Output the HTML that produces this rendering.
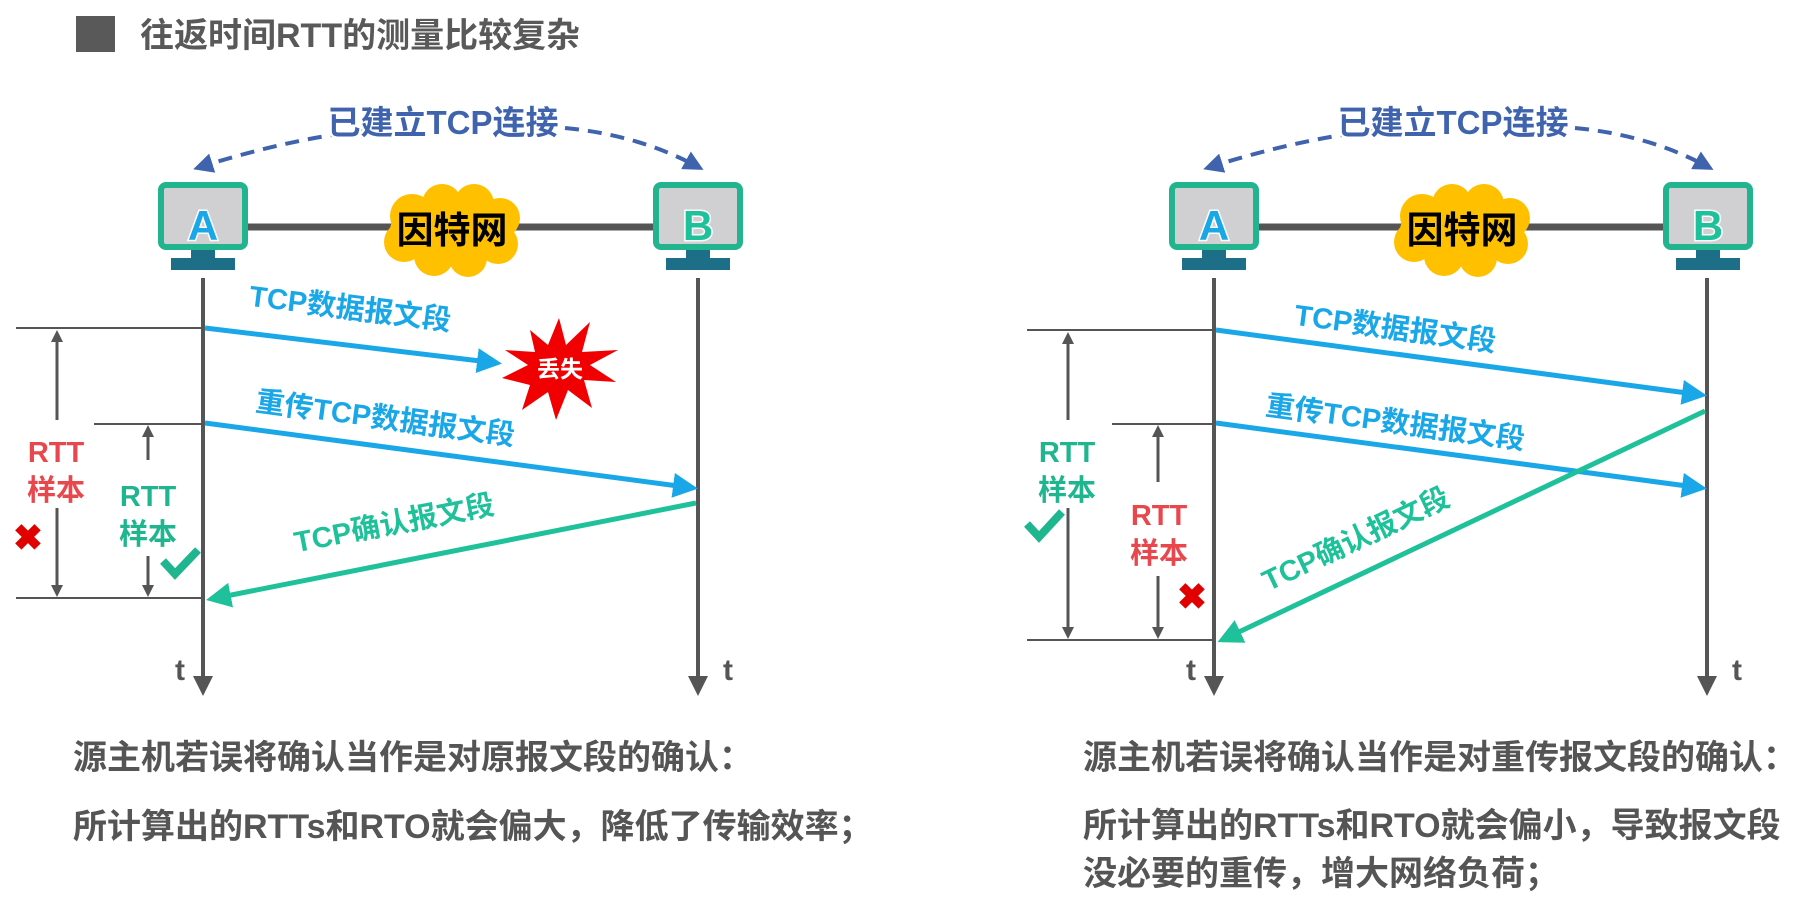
<!DOCTYPE html>
<html><head><meta charset="utf-8"><style>
html,body{margin:0;padding:0;background:#fff;}
svg{display:block;}
text{font-family:"Liberation Sans","Noto Sans CJK SC",sans-serif;font-weight:bold;}
</style></head><body>
<svg width="1817" height="900" viewBox="0 0 1817 900" xmlns="http://www.w3.org/2000/svg">
<defs>
<marker id="mb" markerWidth="5" markerHeight="5" refX="4" refY="2.5" orient="auto" markerUnits="strokeWidth"><path d="M0,0 L5,2.5 L0,5 Z" fill="#1aa7e8"/></marker>
<marker id="mg" markerWidth="5" markerHeight="5" refX="4" refY="2.5" orient="auto" markerUnits="strokeWidth"><path d="M0,0 L5,2.5 L0,5 Z" fill="#1fc19a"/></marker>
<marker id="md" markerWidth="5" markerHeight="5" refX="4" refY="2.5" orient="auto" markerUnits="strokeWidth"><path d="M0,0 L5,2.5 L0,5 Z" fill="#3f63ad"/></marker>
<marker id="mk" markerWidth="4" markerHeight="4" refX="3" refY="2" orient="auto" markerUnits="strokeWidth"><path d="M0,0 L4,2 L0,4 Z" fill="#555"/></marker>
<marker id="mk2" markerWidth="5" markerHeight="5" refX="4" refY="2.5" orient="auto" markerUnits="strokeWidth"><path d="M0,0 L5,2.5 L0,5 Z" fill="#555"/></marker>
<g id="cloud">
<ellipse cx="0" cy="0" rx="62" ry="30" fill="#ffc000"/>
<circle cx="-40" cy="-14" r="22" fill="#ffc000"/><circle cx="-10" cy="-26" r="20" fill="#ffc000"/><circle cx="22" cy="-26" r="20" fill="#ffc000"/><circle cx="48" cy="-12" r="20" fill="#ffc000"/>
<circle cx="-48" cy="12" r="20" fill="#ffc000"/><circle cx="-18" cy="26" r="20" fill="#ffc000"/><circle cx="16" cy="28" r="19" fill="#ffc000"/><circle cx="46" cy="14" r="20" fill="#ffc000"/>
</g>
<g id="pc">
<rect x="-42" y="-42" width="84" height="62" rx="5" fill="#d0d0d2" stroke="#22b38f" stroke-width="6"/>
<rect x="-12" y="23" width="24" height="10" fill="#1d6f88"/>
<rect x="-32" y="31" width="64" height="12" fill="#1d6f88"/>
</g>
</defs>

<rect x="76" y="16" width="39" height="36" fill="#595959"/>
<text x="140" y="47" font-size="34" fill="#595959">往返时间RTT的测量比较复杂</text>

<g>
<path d="M390,128 Q300,135 197,168" fill="none" stroke="#3f63ad" stroke-width="4" stroke-dasharray="14,9" marker-end="url(#md)"/>
<path d="M565,128 Q640,135 700,168" fill="none" stroke="#3f63ad" stroke-width="4" stroke-dasharray="14,9" marker-end="url(#md)"/>
<text x="443" y="134" font-size="33" fill="#3f63ad" text-anchor="middle" stroke="#fff" stroke-width="5" paint-order="stroke">已建立TCP连接</text>
<line x1="247" y1="227" x2="655" y2="227" stroke="#555" stroke-width="7"/>
<use href="#cloud" x="452" y="230"/>
<text x="452" y="243" font-size="37" fill="#000" text-anchor="middle">因特网</text>
<use href="#pc" x="203" y="227"/>
<text x="203" y="240" font-size="42" fill="#1aa7e8" text-anchor="middle" stroke="#fff" stroke-width="3" paint-order="stroke">A</text>
<use href="#pc" x="698" y="227"/>
<text x="698" y="240" font-size="42" fill="#1fc19a" text-anchor="middle" stroke="#fff" stroke-width="3" paint-order="stroke">B</text>
<line x1="203" y1="278" x2="203" y2="692" stroke="#555" stroke-width="4" marker-end="url(#mk2)"/>
<line x1="698" y1="278" x2="698" y2="692" stroke="#555" stroke-width="4" marker-end="url(#mk2)"/>
<text x="180" y="680" font-size="30" fill="#555" text-anchor="middle">t</text>
<text x="728" y="680" font-size="30" fill="#555" text-anchor="middle">t</text>
<line x1="16" y1="328" x2="203" y2="328" stroke="#555" stroke-width="2"/>
<line x1="94" y1="424" x2="203" y2="424" stroke="#555" stroke-width="2"/>
<line x1="16" y1="598" x2="203" y2="598" stroke="#555" stroke-width="2"/>
<line x1="57" y1="420" x2="57" y2="333" stroke="#555" stroke-width="3" marker-end="url(#mk)"/>
<line x1="57" y1="508" x2="57" y2="594" stroke="#555" stroke-width="3" marker-end="url(#mk)"/>
<line x1="148" y1="460" x2="148" y2="428" stroke="#555" stroke-width="3" marker-end="url(#mk)"/>
<line x1="148" y1="556" x2="148" y2="594" stroke="#555" stroke-width="3" marker-end="url(#mk)"/>
<text x="56" y="462" font-size="29" fill="#e8484d" text-anchor="middle">RTT</text>
<text x="56" y="500" font-size="29" fill="#e8484d" text-anchor="middle">样本</text>
<text x="28" y="550" font-size="36" fill="#e00000" text-anchor="middle">✖</text>
<text x="148" y="506" font-size="29" fill="#1fb58f" text-anchor="middle">RTT</text>
<text x="148" y="544" font-size="29" fill="#1fb58f" text-anchor="middle">样本</text>
<path d="M163,561 L175,574 L198,550" fill="none" stroke="#1fb58f" stroke-width="8"/>
<line x1="205" y1="328" x2="497" y2="363" stroke="#1aa7e8" stroke-width="5" marker-end="url(#mb)"/>
<text transform="translate(349,318) rotate(7)" font-size="29" fill="#1aa7e8" text-anchor="middle">TCP数据报文段</text>
<polygon fill="#f00000" points="559,318 566,345 590,322 582,352 618,350 590,365 616,382 584,380 592,408 568,390 556,420 548,392 522,410 530,385 502,378 528,365 505,350 535,352 530,330 548,345" />
<text x="560" y="377" font-size="23" fill="#fff" text-anchor="middle">丢失</text>
<line x1="205" y1="423" x2="693" y2="488" stroke="#1aa7e8" stroke-width="5" marker-end="url(#mb)"/>
<text transform="translate(384,428) rotate(7.6)" font-size="29" fill="#1aa7e8" text-anchor="middle">重传TCP数据报文段</text>
<line x1="696" y1="503" x2="211" y2="599" stroke="#1fc19a" stroke-width="5" marker-end="url(#mg)"/>
<text transform="translate(396,533) rotate(-11)" font-size="29" fill="#1fc19a" text-anchor="middle">TCP确认报文段</text>
<text x="73" y="769" font-size="34" fill="#555">源主机若误将确认当作是对原报文段的确认：</text>
<text x="73" y="838" font-size="34" fill="#555">所计算出的RTTs和RTO就会偏大，降低了传输效率；</text>
</g>

<g>
<path d="M1400,128 Q1310,135 1207,168" fill="none" stroke="#3f63ad" stroke-width="4" stroke-dasharray="14,9" marker-end="url(#md)"/>
<path d="M1575,128 Q1650,135 1710,168" fill="none" stroke="#3f63ad" stroke-width="4" stroke-dasharray="14,9" marker-end="url(#md)"/>
<text x="1453" y="134" font-size="33" fill="#3f63ad" text-anchor="middle" stroke="#fff" stroke-width="5" paint-order="stroke">已建立TCP连接</text>
<line x1="1257" y1="227" x2="1665" y2="227" stroke="#555" stroke-width="7"/>
<use href="#cloud" x="1462" y="230"/>
<text x="1462" y="243" font-size="37" fill="#000" text-anchor="middle">因特网</text>
<use href="#pc" x="1214" y="227"/>
<text x="1214" y="240" font-size="42" fill="#1aa7e8" text-anchor="middle" stroke="#fff" stroke-width="3" paint-order="stroke">A</text>
<use href="#pc" x="1708" y="227"/>
<text x="1708" y="240" font-size="42" fill="#1fc19a" text-anchor="middle" stroke="#fff" stroke-width="3" paint-order="stroke">B</text>
<line x1="1214" y1="278" x2="1214" y2="692" stroke="#555" stroke-width="4" marker-end="url(#mk2)"/>
<line x1="1707" y1="278" x2="1707" y2="692" stroke="#555" stroke-width="4" marker-end="url(#mk2)"/>
<text x="1191" y="680" font-size="30" fill="#555" text-anchor="middle">t</text>
<text x="1737" y="680" font-size="30" fill="#555" text-anchor="middle">t</text>
<line x1="1027" y1="330" x2="1214" y2="330" stroke="#555" stroke-width="2"/>
<line x1="1112" y1="424" x2="1214" y2="424" stroke="#555" stroke-width="2"/>
<line x1="1027" y1="640" x2="1214" y2="640" stroke="#555" stroke-width="2"/>
<line x1="1068" y1="420" x2="1068" y2="335" stroke="#555" stroke-width="3" marker-end="url(#mk)"/>
<line x1="1068" y1="508" x2="1068" y2="636" stroke="#555" stroke-width="3" marker-end="url(#mk)"/>
<line x1="1158" y1="482" x2="1158" y2="428" stroke="#555" stroke-width="3" marker-end="url(#mk)"/>
<line x1="1158" y1="576" x2="1158" y2="636" stroke="#555" stroke-width="3" marker-end="url(#mk)"/>
<text x="1067" y="462" font-size="29" fill="#1fb58f" text-anchor="middle">RTT</text>
<text x="1067" y="500" font-size="29" fill="#1fb58f" text-anchor="middle">样本</text>
<path d="M1027,524 L1039,537 L1062,512" fill="none" stroke="#1fb58f" stroke-width="8"/>
<text x="1159" y="525" font-size="29" fill="#e8484d" text-anchor="middle">RTT</text>
<text x="1159" y="563" font-size="29" fill="#e8484d" text-anchor="middle">样本</text>
<text x="1192" y="609" font-size="36" fill="#e00000" text-anchor="middle">✖</text>
<line x1="1216" y1="330" x2="1702" y2="395" stroke="#1aa7e8" stroke-width="5" marker-end="url(#mb)"/>
<text transform="translate(1394,338) rotate(7.6)" font-size="29" fill="#1aa7e8" text-anchor="middle">TCP数据报文段</text>
<line x1="1216" y1="423" x2="1702" y2="488" stroke="#1aa7e8" stroke-width="5" marker-end="url(#mb)"/>
<text transform="translate(1394,432) rotate(7.6)" font-size="29" fill="#1aa7e8" text-anchor="middle">重传TCP数据报文段</text>
<line x1="1705" y1="411" x2="1222" y2="640" stroke="#1fc19a" stroke-width="5" marker-end="url(#mg)"/>
<text transform="translate(1360,548) rotate(-25.4)" font-size="29" fill="#1fc19a" text-anchor="middle">TCP确认报文段</text>
<text x="1083" y="769" font-size="34" fill="#555">源主机若误将确认当作是对重传报文段的确认：</text>
<text x="1083" y="837" font-size="34" fill="#555">所计算出的RTTs和RTO就会偏小，导致报文段</text>
<text x="1083" y="885" font-size="34" fill="#555">没必要的重传，增大网络负荷；</text>
</g>
</svg>
</body></html>
